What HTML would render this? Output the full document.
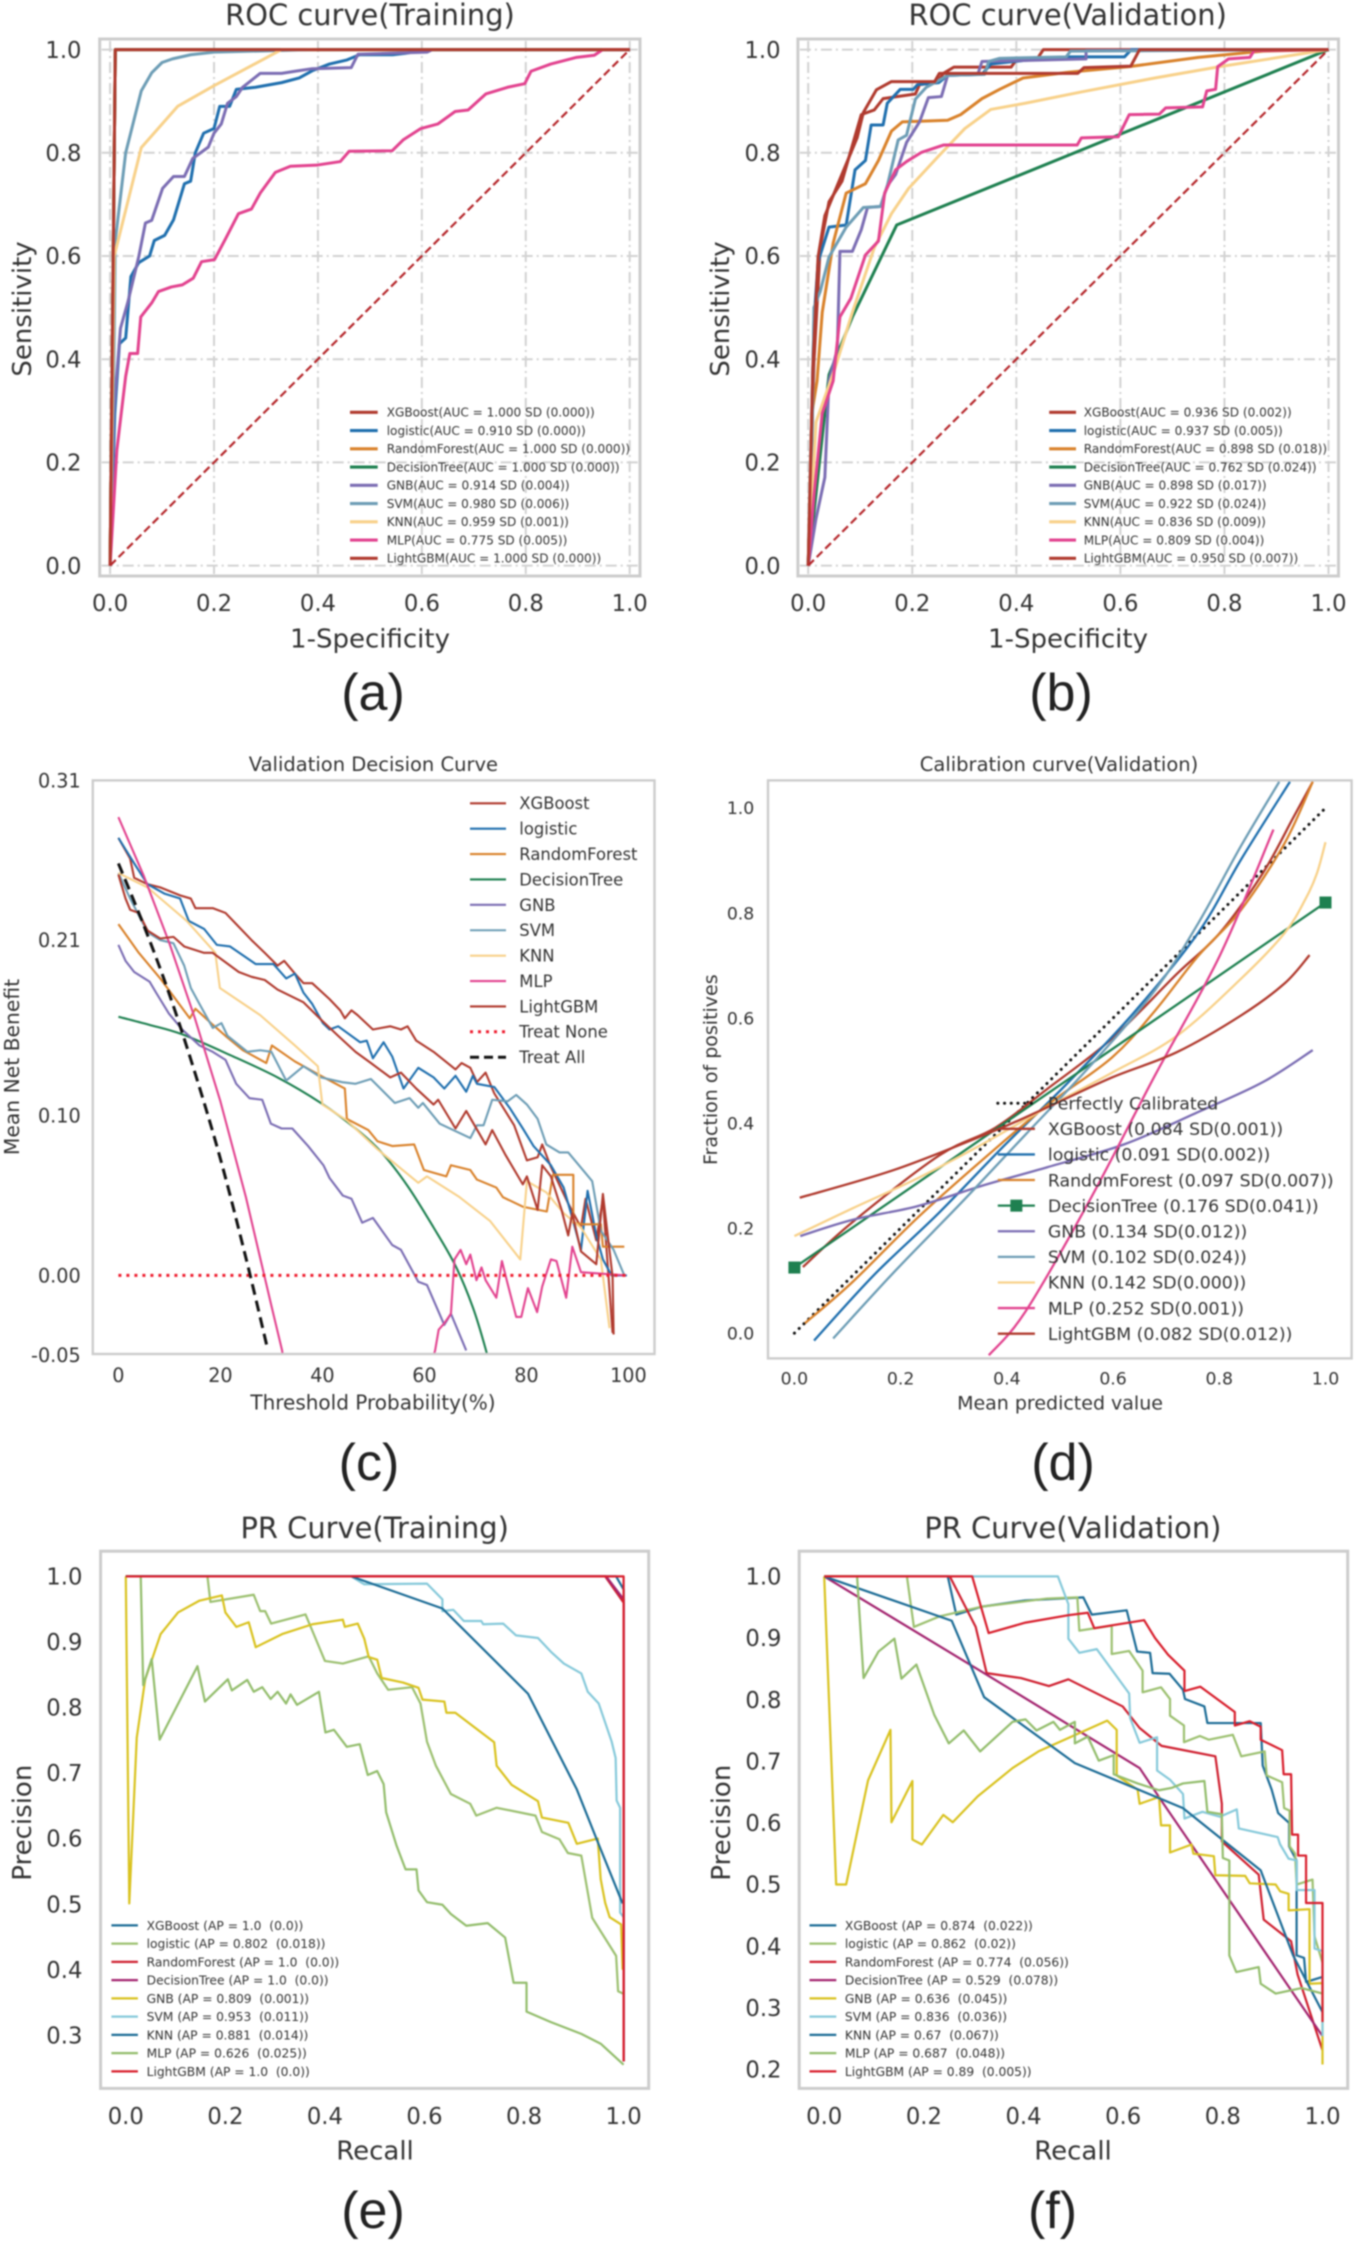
<!DOCTYPE html>
<html lang="en">
<head>
<meta charset="utf-8">
<title>Model evaluation curves</title>
<style>
html,body{margin:0;padding:0;background:#fff;width:1357px;height:2244px;overflow:hidden}
svg{display:block;filter:blur(.7px)}
text{font-family:"DejaVu Sans","Liberation Sans",sans-serif;fill:#333;white-space:pre}
.big{font-family:"Liberation Sans",sans-serif;font-size:52px;fill:#222;text-anchor:middle}
.mid{text-anchor:middle}
</style>
</head>
<body>
<svg id="figure" xmlns="http://www.w3.org/2000/svg" width="1357" height="2244" viewBox="0 0 1357 2244">
<rect width="1357" height="2244" fill="#fff"/>
<text class="mid" x="370" y="25" font-size="28.9">ROC curve(Training)</text>
<text class="mid" x="370" y="647.5" font-size="26">1-Specificity</text>
<text class="mid" transform="translate(31,309) rotate(-90)" font-size="26">Sensitivity</text>
<text class="big" x="373" y="710">(a)</text>
<text class="mid" x="1067.7" y="25" font-size="28.9">ROC curve(Validation)</text>
<text class="mid" x="1068" y="647.5" font-size="26">1-Specificity</text>
<text class="mid" transform="translate(729,309) rotate(-90)" font-size="26">Sensitivity</text>
<text class="big" x="1061" y="710">(b)</text>
<text class="mid" x="373.4" y="770.8" font-size="19.5">Validation Decision Curve</text>
<text class="mid" x="373" y="1409.4" font-size="20">Threshold Probability(%)</text>
<text class="mid" transform="translate(19,1067) rotate(-90)" font-size="20.3">Mean Net Benefit</text>
<text class="big" x="369" y="1480">(c)</text>
<text class="mid" x="1059" y="770.8" font-size="19.5">Calibration curve(Validation)</text>
<text class="mid" x="1060" y="1409.4" font-size="19">Mean predicted value</text>
<text class="mid" transform="translate(717,1069.7) rotate(-90)" font-size="19">Fraction of positives</text>
<text class="big" x="1063" y="1480">(d)</text>
<text class="mid" x="374.7" y="1538" font-size="28.9">PR Curve(Training)</text>
<text class="mid" x="375" y="2159.6" font-size="26">Recall</text>
<text class="mid" transform="translate(31,1822.7) rotate(-90)" font-size="26">Precision</text>
<text class="big" x="373" y="2228">(e)</text>
<text class="mid" x="1072.9" y="1538" font-size="28.9">PR Curve(Validation)</text>
<text class="mid" x="1073" y="2159.6" font-size="26">Recall</text>
<text class="mid" transform="translate(730,1822.7) rotate(-90)" font-size="26">Precision</text>
<text class="big" x="1052.6" y="2228">(f)</text>
</svg>
<script>
/* ---------- tick values and labels ---------- */
const rocTicks=[0,0.2,0.4,0.6,0.8,1];
const rocTickLabels=['0.0','0.2','0.4','0.6','0.8','1.0'];
const dcaXTicks=[0,20,40,60,80,100];
const dcaXTickLabels=['0','20','40','60','80','100'];
const dcaYTicks=[0.31,0.21,0.10,0,-0.05];
const dcaYTickLabels=['0.31','0.21','0.10','0.00','-0.05'];
const prTrainYTicks=[1,0.9,0.8,0.7,0.6,0.5,0.4,0.3];
const prTrainYTickLabels=['1.0','0.9','0.8','0.7','0.6','0.5','0.4','0.3'];
const prValYTicks=[1,0.9,0.8,0.7,0.6,0.5,0.4,0.3,0.2];
const prValYTickLabels=['1.0','0.9','0.8','0.7','0.6','0.5','0.4','0.3','0.2'];

/* ---------- legend text ---------- */
const rocTrainLegend=['XGBoost(AUC = 1.000 SD (0.000))','logistic(AUC = 0.910 SD (0.000))','RandomForest(AUC = 1.000 SD (0.000))','DecisionTree(AUC = 1.000 SD (0.000))','GNB(AUC = 0.914 SD (0.004))','SVM(AUC = 0.980 SD (0.006))','KNN(AUC = 0.959 SD (0.001))','MLP(AUC = 0.775 SD (0.005))','LightGBM(AUC = 1.000 SD (0.000))'];
const rocValLegend=['XGBoost(AUC = 0.936 SD (0.002))','logistic(AUC = 0.937 SD (0.005))','RandomForest(AUC = 0.898 SD (0.018))','DecisionTree(AUC = 0.762 SD (0.024))','GNB(AUC = 0.898 SD (0.017))','SVM(AUC = 0.922 SD (0.024))','KNN(AUC = 0.836 SD (0.009))','MLP(AUC = 0.809 SD (0.004))','LightGBM(AUC = 0.950 SD (0.007))'];
const dcaLegend=['XGBoost','logistic','RandomForest','DecisionTree','GNB','SVM','KNN','MLP','LightGBM','Treat None','Treat All'];
const calLegend=['Perfectly Calibrated','XGBoost (0.084 SD(0.001))','logistic (0.091 SD(0.002))','RandomForest (0.097 SD(0.007))','DecisionTree (0.176 SD(0.041))','GNB (0.134 SD(0.012))','SVM (0.102 SD(0.024))','KNN (0.142 SD(0.000))','MLP (0.252 SD(0.001))','LightGBM (0.082 SD(0.012))'];
const prTrainLegend=['XGBoost (AP = 1.0  (0.0))','logistic (AP = 0.802  (0.018))','RandomForest (AP = 1.0  (0.0))','DecisionTree (AP = 1.0  (0.0))','GNB (AP = 0.809  (0.001))','SVM (AP = 0.953  (0.011))','KNN (AP = 0.881  (0.014))','MLP (AP = 0.626  (0.025))','LightGBM (AP = 1.0  (0.0))'];
const prValLegend=['XGBoost (AP = 0.874  (0.022))','logistic (AP = 0.862  (0.02))','RandomForest (AP = 0.774  (0.056))','DecisionTree (AP = 0.529  (0.078))','GNB (AP = 0.636  (0.045))','SVM (AP = 0.836  (0.036))','KNN (AP = 0.67  (0.067))','MLP (AP = 0.687  (0.048))','LightGBM (AP = 0.89  (0.005))'];

/* ---------- ROC training: [1-specificity, sensitivity] ---------- */
const rocTrainXGBoost=[[0,0],[0.01,1],[1,1]];
const rocTrainLogistic=[[0,0],[0.009,0.295],[0.018,0.43],[0.03,0.441],[0.04,0.56],[0.055,0.587],[0.076,0.6],[0.085,0.63],[0.105,0.64],[0.122,0.67],[0.143,0.74],[0.155,0.745],[0.164,0.8],[0.18,0.838],[0.2,0.847],[0.211,0.89],[0.23,0.89],[0.243,0.923],[0.28,0.927],[0.33,0.936],[0.364,0.945],[0.389,0.959],[0.422,0.972],[0.456,0.98],[0.48,0.99],[0.544,0.99],[0.569,0.993],[0.61,1],[1,1]];
const rocTrainRandomForest=[[0,0],[0.01,1],[1,1]];
const rocTrainDecisionTree=[[0,0],[0.01,1],[1,1]];
const rocTrainGNB=[[0,0],[0.007,0.295],[0.02,0.46],[0.034,0.51],[0.055,0.598],[0.068,0.664],[0.08,0.669],[0.101,0.731],[0.122,0.754],[0.143,0.754],[0.159,0.789],[0.189,0.811],[0.2,0.838],[0.214,0.856],[0.226,0.896],[0.243,0.909],[0.255,0.927],[0.289,0.954],[0.33,0.954],[0.356,0.958],[0.389,0.963],[0.464,0.965],[0.477,0.991],[0.61,0.995],[0.62,1]];
const rocTrainSVM=[[0,0],[0.008,0.45],[0.01,0.63],[0.03,0.8],[0.06,0.92],[0.08,0.955],[0.1,0.975],[0.12,0.982],[0.155,0.99],[0.2,0.995],[0.39,1]];
const rocTrainKNN=[[0,0],[0.008,0.6],[0.06,0.81],[0.13,0.89],[0.2,0.93],[0.33,1],[0.4,1]];
const rocTrainMLP=[[0,0],[0.013,0.224],[0.03,0.367],[0.038,0.411],[0.053,0.411],[0.059,0.482],[0.08,0.509],[0.093,0.531],[0.118,0.54],[0.139,0.544],[0.16,0.557],[0.176,0.589],[0.201,0.593],[0.222,0.633],[0.247,0.682],[0.272,0.691],[0.289,0.722],[0.318,0.762],[0.347,0.774],[0.397,0.776],[0.443,0.783],[0.46,0.803],[0.543,0.804],[0.564,0.825],[0.598,0.847],[0.631,0.856],[0.664,0.88],[0.689,0.883],[0.723,0.914],[0.765,0.927],[0.798,0.934],[0.81,0.958],[0.848,0.972],[0.898,0.985],[0.932,0.989],[0.948,1],[1,1]];
const rocTrainLightGBM=[[0,0],[0.01,1],[1,1]];

/* ---------- ROC validation ---------- */
const rocValXGBoost=[[0,0],[0.011,0.393],[0.023,0.616],[0.04,0.705],[0.065,0.745],[0.102,0.874],[0.127,0.883],[0.144,0.905],[0.206,0.914],[0.214,0.932],[0.247,0.936],[0.26,0.954],[0.28,0.966],[0.39,0.966],[0.4,0.98],[0.44,0.982],[0.452,1],[1,1]];
const rocValLogistic=[[0,0],[0.011,0.473],[0.019,0.589],[0.04,0.656],[0.073,0.66],[0.09,0.767],[0.11,0.785],[0.121,0.854],[0.144,0.854],[0.152,0.896],[0.177,0.923],[0.202,0.923],[0.21,0.932],[0.251,0.936],[0.268,0.95],[0.334,0.952],[0.351,0.972],[0.451,0.983],[0.5,0.986],[0.608,0.986],[0.621,1],[1,1]];
const rocValRandomForest=[[0,0],[0.007,0.295],[0.017,0.358],[0.027,0.491],[0.048,0.625],[0.073,0.722],[0.11,0.74],[0.135,0.785],[0.16,0.842],[0.181,0.86],[0.268,0.863],[0.293,0.874],[0.334,0.905],[0.368,0.923],[0.413,0.945],[0.5,0.956],[0.617,0.967],[0.75,0.985],[0.874,0.997],[1,1]];
const rocValDecisionTree=[[0,0],[0.04,0.37],[0.085,0.482],[0.17,0.66],[1,1]];
const rocValGNB=[[0,0],[0.015,0.091],[0.032,0.171],[0.04,0.358],[0.056,0.42],[0.061,0.609],[0.085,0.609],[0.102,0.651],[0.114,0.694],[0.139,0.696],[0.152,0.736],[0.168,0.758],[0.189,0.82],[0.214,0.86],[0.231,0.907],[0.256,0.909],[0.268,0.95],[0.326,0.952],[0.334,0.977],[0.534,0.982],[0.534,0.998],[1,1]];
const rocValSVM=[[0,0],[0.007,0.206],[0.011,0.5],[0.023,0.531],[0.04,0.598],[0.073,0.656],[0.106,0.694],[0.139,0.696],[0.152,0.736],[0.173,0.825],[0.189,0.834],[0.206,0.904],[0.227,0.927],[0.268,0.95],[0.339,0.952],[0.347,0.977],[0.368,0.983],[0.496,0.986],[0.504,0.997],[1,1]];
const rocValKNN=[[0,0],[0.015,0.278],[0.052,0.384],[0.085,0.491],[0.127,0.616],[0.16,0.682],[0.193,0.731],[0.251,0.794],[0.301,0.847],[0.351,0.884],[0.417,0.896],[0.525,0.918],[0.666,0.945],[0.791,0.967],[1,1]];
const rocValMLP=[[0,0],[0.011,0.135],[0.027,0.295],[0.048,0.358],[0.061,0.482],[0.082,0.518],[0.11,0.602],[0.135,0.629],[0.147,0.722],[0.168,0.767],[0.189,0.783],[0.218,0.801],[0.26,0.815],[0.517,0.815],[0.525,0.829],[0.596,0.831],[0.617,0.874],[0.675,0.875],[0.687,0.887],[0.758,0.889],[0.766,0.92],[0.783,0.923],[0.787,0.967],[0.808,0.982],[0.849,0.985],[0.857,0.998],[1,1]];
const rocValLightGBM=[[0,0],[0.009,0.384],[0.019,0.598],[0.032,0.678],[0.061,0.749],[0.094,0.829],[0.106,0.878],[0.131,0.922],[0.16,0.938],[0.243,0.938],[0.252,0.954],[0.518,0.954],[0.53,0.965],[0.62,0.968],[0.637,1],[1,1]];
const chanceLine=[[0,0],[1,1]];

/* ---------- decision curve: [threshold %, net benefit] ---------- */
const dcaXGBoost=[[0,0.274],[2.3,0.261],[3.1,0.249],[5.7,0.245],[8.2,0.243],[12.1,0.238],[14.2,0.236],[15.1,0.23],[18.5,0.23],[21,0.227],[23.1,0.22],[26.1,0.21],[28.7,0.202],[31.2,0.194],[32.5,0.197],[34.6,0.189],[36.3,0.183],[38,0.183],[41.4,0.173],[43.5,0.166],[44.4,0.161],[45.7,0.166],[46.9,0.163],[49.9,0.154],[51.6,0.155],[53.3,0.156],[55.4,0.154],[56.7,0.156],[58.4,0.147],[61.8,0.14],[66.1,0.129],[67.3,0.133],[69,0.13],[70.3,0.121],[72,0.127],[73.7,0.114],[77.6,0.094],[80.1,0.072],[82.2,0.074],[83.1,0.082],[84.8,0.068],[88.2,0.045],[90.7,0.03],[91.6,0.048],[93.7,0.022],[95,0.048],[96.9,-0.036]];
const dcaLogistic=[[0,0.274],[3.1,0.258],[5.7,0.245],[9.1,0.239],[12.1,0.236],[13.8,0.222],[16.8,0.217],[19.3,0.207],[21.9,0.206],[26.9,0.195],[30.4,0.195],[32.9,0.186],[34.6,0.189],[36.3,0.177],[38,0.17],[40.1,0.158],[41.4,0.154],[43.1,0.156],[47.4,0.146],[48.7,0.147],[49.9,0.136],[52,0.146],[53.7,0.137],[55.9,0.117],[58.8,0.13],[61.8,0.124],[63.9,0.117],[66.1,0.125],[68.2,0.115],[69.5,0.125],[70.3,0.12],[73.7,0.118],[76.7,0.105],[79.3,0.092],[81.4,0.081],[84.8,0.069],[87.3,0.055],[89,0.036],[90.7,0.016],[92,0.053],[93.7,0.025],[95,0.01],[96.7,0],[99.7,0]];
const dcaRandomForest=[[0,0.22],[4,0.202],[8.2,0.186],[14,0.161],[15.1,0.167],[18.5,0.157],[21,0.15],[24.4,0.141],[29,0.133],[30.1,0.144],[34.6,0.134],[39.7,0.125],[44.4,0.117],[44.8,0.098],[49,0.091],[50.8,0.084],[53.7,0.081],[58,0.082],[59.9,0.066],[64.3,0.062],[65.2,0.069],[69,0.066],[70.3,0.06],[74.1,0.055],[75.4,0.049],[79.3,0.043],[84,0.04],[85.2,0.063],[89.2,0.063],[89.2,0.033],[91.2,0.032],[94.6,0.032],[95,0.018],[99.2,0.018]];
const dcaDecisionTree=[[0,0.162],[6,0.157],[12.5,0.151],[21.9,0.138],[31.2,0.124],[39.7,0.108],[46.5,0.092],[51.6,0.077],[56.7,0.056],[61.8,0.03],[66.1,0.006],[69.5,-0.02],[72,-0.046],[73,-0.06]];
const dcaGNB=[[0,0.207],[1.4,0.197],[3.1,0.19],[6.1,0.184],[7.4,0.177],[9.9,0.164],[12.5,0.154],[15.9,0.144],[18.5,0.14],[21,0.135],[23.1,0.12],[25.7,0.111],[28.2,0.11],[29.9,0.095],[32,0.092],[34.1,0.092],[37.2,0.081],[40.2,0.069],[41.4,0.061],[44,0.05],[45.7,0.048],[47.8,0.033],[49.9,0.036],[53.7,0.019],[55.4,0.016],[58.8,-0.004],[60.5,-0.006],[63.9,-0.031],[65.2,-0.024],[68.2,-0.047]];
const dcaSVM=[[0,0.252],[2.3,0.236],[4.9,0.22],[6.2,0.214],[8.2,0.21],[10.8,0.208],[12.9,0.194],[14.2,0.18],[15.9,0.17],[18.5,0.155],[20.2,0.158],[21.4,0.15],[25.3,0.14],[27.8,0.141],[30,0.14],[32.9,0.122],[36.3,0.131],[39.7,0.124],[43.9,0.121],[46.5,0.12],[49.5,0.123],[54.2,0.108],[57.1,0.111],[58.8,0.105],[59.7,0.108],[63,0.095],[69,0.086],[70.3,0.094],[71.6,0.094],[73.3,0.11],[76.3,0.109],[78,0.113],[80.1,0.107],[82.2,0.098],[83.9,0.082],[86.5,0.077],[88.2,0.077],[91.6,0.064],[92.9,0.059],[94.6,0.028],[97.1,0.016],[99.2,0]];
const dcaKNN=[[0,0.252],[5.7,0.243],[13.4,0.222],[19,0.202],[19.9,0.18],[27.8,0.163],[34.6,0.144],[39.1,0.131],[40,0.107],[44.8,0.097],[50.8,0.079],[58.8,0.058],[60.5,0.062],[66.9,0.049],[72.9,0.034],[78.8,0.01],[80.1,0.059],[83.9,0.052],[87.3,0.039],[90.7,0.03],[94.6,0.01],[96.3,-0.033]];
const dcaMLP=[[0,0.287],[5,0.25],[10,0.208],[15,0.161],[20,0.109],[25,0.049],[30,-0.019],[32.1,-0.047],[33,-0.07],[60,-0.07],[62.1,-0.047],[62.8,-0.034],[63.9,-0.03],[65.2,-0.024],[65.9,0.01],[67.1,0.016],[68.2,0.007],[69,0.013],[70.2,-0.003],[71.2,0.005],[72,-0.003],[74.1,-0.014],[75.2,0.009],[76.3,-0.005],[78,-0.026],[79,-0.026],[80.3,-0.008],[82.1,-0.023],[83.1,-0.007],[84.8,0.01],[85.9,0.009],[87.8,-0.014],[89,0.018],[90.7,0.002],[99.5,0]];
const dcaLightGBM=[[0,0.251],[1.4,0.236],[2.3,0.229],[4,0.227],[5.7,0.216],[8.2,0.211],[10.8,0.212],[12.9,0.206],[16.8,0.202],[18.5,0.202],[21.9,0.194],[23.6,0.19],[26.1,0.187],[28.7,0.185],[31.2,0.179],[36.3,0.171],[40.1,0.159],[43.1,0.15],[46.5,0.14],[49.5,0.133],[53.3,0.124],[55.4,0.127],[58.4,0.117],[61.8,0.107],[62.7,0.11],[66.1,0.092],[68.2,0.103],[72,0.082],[73.3,0.091],[75.8,0.076],[79.3,0.057],[80.1,0.062],[82.2,0.041],[83.1,0.069],[84.8,0.062],[86.9,0.041],[88.2,0.025],[89,0.039],[90.7,0.015],[93.7,0.007],[95,0.051],[96.9,-0.001],[97.1,-0.037]];
const dcaTreatNone=[[0,0],[99.5,0]];
const dcaTreatAll=[[0,0.258],[5,0.219],[10,0.176],[15,0.127],[20,0.073],[25,0.011],[29.1,-0.044]];

/* ---------- calibration: [mean predicted, fraction positive] ---------- */
const calPerfect=[[0,0],[1,1]];
const calXGBoost=[[0.016,0.126],[0.11,0.212],[0.272,0.338],[0.378,0.391],[0.476,0.465],[0.598,0.561],[0.72,0.684],[0.801,0.762],[0.882,0.876],[0.939,0.981],[0.976,1.05]];
const calLogistic=[[0.037,-0.014],[0.15,0.111],[0.272,0.229],[0.394,0.356],[0.516,0.478],[0.638,0.609],[0.76,0.762],[0.841,0.902],[0.933,1.05]];
const calRandomForest=[[0.02,0.019],[0.11,0.098],[0.232,0.22],[0.354,0.33],[0.476,0.434],[0.598,0.525],[0.679,0.614],[0.76,0.718],[0.841,0.806],[0.923,0.933],[0.976,1.05]];
const calDecisionTree=[[0,0.125],[1,0.82]];
const calGNB=[[0.011,0.185],[0.11,0.216],[0.232,0.242],[0.354,0.281],[0.476,0.316],[0.622,0.36],[0.76,0.421],[0.882,0.478],[0.976,0.539]];
const calSVM=[[0.073,-0.01],[0.191,0.12],[0.313,0.247],[0.435,0.378],[0.557,0.509],[0.679,0.653],[0.76,0.78],[0.841,0.928],[0.913,1.05]];
const calKNN=[[0,0.185],[0.11,0.238],[0.232,0.295],[0.354,0.36],[0.476,0.43],[0.598,0.496],[0.72,0.566],[0.841,0.675],[0.923,0.762],[0.963,0.828],[0.984,0.876],[1,0.935]];
const calMLP=[[0.366,-0.042],[0.435,0.041],[0.557,0.255],[0.679,0.491],[0.801,0.719],[0.902,0.959]];
const calLightGBM=[[0.01,0.258],[0.191,0.312],[0.378,0.386],[0.476,0.43],[0.598,0.487],[0.72,0.535],[0.841,0.605],[0.923,0.666],[0.97,0.72]];

/* ---------- PR training: [recall, precision] ---------- */
const prTrainXGBoost=[[0,1],[0.985,1],[1,0.98],[1,0.26]];
const prTrainLogistic=[[0,1],[0.164,1],[0.17,0.961],[0.257,0.972],[0.27,0.947],[0.28,0.947],[0.292,0.928],[0.361,0.942],[0.383,0.902],[0.4,0.871],[0.436,0.867],[0.488,0.878],[0.505,0.852],[0.527,0.827],[0.575,0.831],[0.592,0.806],[0.605,0.748],[0.623,0.711],[0.653,0.668],[0.692,0.653],[0.704,0.635],[0.745,0.647],[0.823,0.635],[0.836,0.61],[0.871,0.599],[0.888,0.578],[0.915,0.574],[0.937,0.479],[0.985,0.421],[0.989,0.367],[1,0.363]];
const prTrainRandomForest=[[0,1],[0.963,1],[1,0.96],[1,0.26]];
const prTrainDecisionTree=[[0,1],[0.965,1],[1,0.965],[1,0.26]];
const prTrainGNB=[[0,1],[0.007,0.501],[0.022,0.754],[0.039,0.843],[0.07,0.912],[0.105,0.945],[0.148,0.963],[0.193,0.971],[0.2,0.945],[0.222,0.923],[0.247,0.93],[0.261,0.892],[0.314,0.912],[0.375,0.927],[0.436,0.934],[0.44,0.923],[0.466,0.928],[0.479,0.905],[0.488,0.877],[0.505,0.873],[0.514,0.845],[0.557,0.838],[0.588,0.83],[0.596,0.812],[0.64,0.809],[0.644,0.792],[0.662,0.792],[0.74,0.747],[0.745,0.711],[0.775,0.682],[0.828,0.657],[0.836,0.632],[0.889,0.624],[0.906,0.592],[0.948,0.6],[0.954,0.538],[0.963,0.502],[0.972,0.48],[0.995,0.469],[0.998,0.4]];
const prTrainSVM=[[0,1],[0.453,1],[0.479,0.988],[0.605,0.989],[0.636,0.965],[0.636,0.947],[0.658,0.949],[0.679,0.932],[0.714,0.932],[0.718,0.927],[0.758,0.928],[0.784,0.91],[0.828,0.906],[0.854,0.885],[0.88,0.867],[0.915,0.852],[0.928,0.824],[0.95,0.806],[0.963,0.777],[0.976,0.748],[0.984,0.723],[0.986,0.658],[0.993,0.647],[0.993,0.487],[1,0.48]];
const prTrainKNN=[[0,1],[0.453,1],[0.636,0.951],[0.808,0.821],[0.906,0.675],[0.948,0.595],[0.998,0.501]];
const prTrainMLP=[[0,1],[0.03,1],[0.035,0.834],[0.052,0.874],[0.068,0.751],[0.144,0.863],[0.159,0.809],[0.205,0.843],[0.213,0.826],[0.244,0.842],[0.257,0.824],[0.274,0.831],[0.291,0.813],[0.305,0.824],[0.322,0.806],[0.331,0.82],[0.344,0.804],[0.388,0.824],[0.401,0.762],[0.418,0.766],[0.444,0.74],[0.47,0.744],[0.486,0.697],[0.505,0.703],[0.518,0.683],[0.523,0.64],[0.544,0.589],[0.562,0.553],[0.584,0.553],[0.588,0.521],[0.605,0.503],[0.636,0.499],[0.653,0.485],[0.684,0.467],[0.727,0.471],[0.762,0.449],[0.779,0.38],[0.805,0.38],[0.805,0.336],[0.854,0.32],[0.915,0.302],[0.954,0.287],[1,0.255]];
const prTrainLightGBM=[[0,1],[1,1],[1,0.26]];

/* ---------- PR validation ---------- */
const prValXGBoost=[[0,1],[0.248,1],[0.265,0.938],[0.317,0.951],[0.403,0.961],[0.52,0.966],[0.537,0.938],[0.607,0.945],[0.628,0.878],[0.654,0.876],[0.659,0.843],[0.693,0.842],[0.72,0.816],[0.724,0.801],[0.763,0.789],[0.769,0.762],[0.876,0.762],[0.88,0.693],[0.898,0.654],[0.911,0.616],[0.933,0.6],[0.933,0.562],[0.948,0.539],[0.948,0.385],[0.963,0.381],[0.967,0.342],[1,0.35]];
const prValLogistic=[[0,1],[0.166,1],[0.18,0.918],[0.231,0.935],[0.317,0.951],[0.447,0.964],[0.508,0.966],[0.512,0.912],[0.577,0.92],[0.577,0.874],[0.612,0.879],[0.639,0.847],[0.639,0.812],[0.676,0.82],[0.694,0.801],[0.694,0.774],[0.722,0.758],[0.722,0.731],[0.754,0.741],[0.772,0.735],[0.82,0.743],[0.837,0.708],[0.884,0.716],[0.888,0.677],[0.919,0.666],[0.923,0.624],[0.934,0.62],[0.934,0.562],[0.945,0.55],[0.948,0.5],[0.98,0.508],[0.984,0.416],[1,0.373]];
const prValRandomForest=[[0,1],[0.252,1],[0.304,0.918],[0.326,0.843],[0.395,0.835],[0.451,0.822],[0.49,0.833],[0.599,0.789],[0.633,0.754],[0.677,0.725],[0.785,0.708],[0.798,0.631],[0.798,0.57],[0.872,0.516],[0.882,0.443],[0.937,0.408],[0.95,0.354],[1,0.231]];
const prValDecisionTree=[[0,1],[0.321,0.843],[0.633,0.689],[0.681,0.631],[1,0.254]];
const prValGNB=[[0,1],[0.024,0.5],[0.044,0.5],[0.088,0.669],[0.133,0.751],[0.135,0.601],[0.177,0.668],[0.177,0.573],[0.196,0.565],[0.239,0.613],[0.258,0.601],[0.308,0.643],[0.378,0.689],[0.43,0.716],[0.568,0.766],[0.587,0.751],[0.587,0.677],[0.629,0.654],[0.633,0.631],[0.672,0.642],[0.676,0.596],[0.694,0.596],[0.694,0.552],[0.737,0.565],[0.741,0.55],[0.782,0.546],[0.785,0.515],[0.845,0.514],[0.854,0.502],[0.906,0.5],[0.915,0.489],[0.932,0.485],[0.932,0.458],[0.974,0.46],[0.974,0.339],[1,0.34],[1,0.208]];
const prValSVM=[[0,1],[0.469,1],[0.49,0.955],[0.49,0.899],[0.512,0.876],[0.547,0.882],[0.612,0.81],[0.614,0.77],[0.633,0.73],[0.668,0.739],[0.668,0.685],[0.694,0.67],[0.72,0.647],[0.723,0.607],[0.759,0.618],[0.794,0.61],[0.828,0.622],[0.832,0.591],[0.91,0.577],[0.915,0.565],[0.932,0.542],[0.948,0.539],[0.948,0.491],[0.965,0.491],[0.984,0.491],[0.984,0.396],[1,0.392],[1,0.254]];
const prValKNN=[[0,1],[0.256,0.928],[0.321,0.804],[0.503,0.697],[0.72,0.624],[0.876,0.523],[0.941,0.385],[1,0.293]];
const prValMLP=[[0,1],[0.066,1],[0.079,0.835],[0.109,0.878],[0.141,0.899],[0.155,0.834],[0.185,0.857],[0.221,0.775],[0.25,0.729],[0.28,0.75],[0.313,0.716],[0.378,0.764],[0.404,0.768],[0.426,0.75],[0.46,0.764],[0.473,0.751],[0.503,0.764],[0.503,0.729],[0.529,0.74],[0.551,0.701],[0.581,0.71],[0.581,0.679],[0.629,0.664],[0.672,0.653],[0.698,0.657],[0.72,0.664],[0.763,0.668],[0.769,0.618],[0.798,0.614],[0.8,0.543],[0.813,0.539],[0.813,0.385],[0.827,0.358],[0.872,0.366],[0.876,0.339],[0.906,0.323],[0.958,0.332],[1,0.323]];
const prValLightGBM=[[0,1],[0.297,1],[0.33,0.908],[0.404,0.925],[0.49,0.937],[0.529,0.941],[0.542,0.916],[0.642,0.929],[0.664,0.9],[0.69,0.873],[0.723,0.847],[0.723,0.814],[0.755,0.821],[0.824,0.78],[0.824,0.758],[0.854,0.765],[0.876,0.756],[0.876,0.735],[0.919,0.718],[0.922,0.679],[0.937,0.679],[0.939,0.581],[0.951,0.581],[0.951,0.547],[0.967,0.547],[0.967,0.47],[1,0.47],[1,0.277]];

/* ---------- drawing ---------- */
const NS='http://www.w3.org/2000/svg';
const root=document.getElementById('figure');
const C={xgb:'#b03a2e',log:'#1f6fae',rf:'#d9822b',dt:'#1e8050',gnb:'#7b6db3',svm:'#6d9db5',knn:'#f8d18a',mlp:'#e2438f',lgb:'#b03a2e'};
const P={xgb:'#1c6c96',log:'#9cc070',rf:'#cf2030',dt:'#a3246f',gnb:'#d9c21f',svm:'#86c9da',knn:'#1c6c96',mlp:'#93bd6c',lgb:'#d81e2c'};

function node(tag,attrs,parent){
  const el=document.createElementNS(NS,tag);
  for(const k in attrs){el.setAttribute(k,attrs[k]);}
  parent.appendChild(el);
  return el;
}
function pathFor(pts,sx,sy,smooth){
  const q=pts.map(p=>[sx(p[0]),sy(p[1])]);
  let d='M'+q[0][0].toFixed(2)+' '+q[0][1].toFixed(2);
  for(let i=1;i<q.length;i++){
    if(!smooth){d+='L'+q[i][0].toFixed(2)+' '+q[i][1].toFixed(2);continue;}
    const a=q[Math.max(i-2,0)],b=q[i-1],c=q[i],e=q[Math.min(i+1,q.length-1)];
    const c1=[b[0]+(c[0]-a[0])/6,b[1]+(c[1]-a[1])/6];
    const c2=[c[0]-(e[0]-b[0])/6,c[1]-(e[1]-b[1])/6];
    d+='C'+c1[0].toFixed(2)+' '+c1[1].toFixed(2)+' '+c2[0].toFixed(2)+' '+c2[1].toFixed(2)+' '+c[0].toFixed(2)+' '+c[1].toFixed(2);
  }
  return d;
}
function drawPanel(o){
  const g=node('g',{},root);
  
  
  const sx=v=>o.x0+(v-o.xmin)/(o.xmax-o.xmin)*(o.x1-o.x0);
  const sy=v=>o.y0+(v-o.ymin)/(o.ymax-o.ymin)*(o.y1-o.y0);
  const clipId=o.id+'-clip';
  const cp=node('clipPath',{id:clipId},g);
  node('rect',{x:o.fx0,y:o.fy0,width:o.fx1-o.fx0,height:o.fy1-o.fy0},cp);
  if(o.grid){
    o.xTicks.forEach(t=>{
      const l=node('line',{x1:sx(t),x2:sx(t),y1:o.fy0+2,y2:o.fy1-2,stroke:'#d2d2d2','stroke-width':2,'stroke-dasharray':'11 4 2 4'},g);
      
      
    });
    o.yTicks.forEach(t=>{
      const l=node('line',{y1:sy(t),y2:sy(t),x1:o.fx0+2,x2:o.fx1-2,stroke:'#d2d2d2','stroke-width':2,'stroke-dasharray':'11 4 2 4'},g);
      
      
    });
  }
  const plot=node('g',{'clip-path':'url(#'+clipId+')'},g);
  o.series.forEach(s=>{
    const attrs={d:pathFor(s.data,sx,sy,s.smooth),fill:'none',stroke:s.color,'stroke-width':s.width||o.lw,'stroke-linejoin':'round'};
    if(s.dash){attrs['stroke-dasharray']=s.dash;}
    if(s.cap){attrs['stroke-linecap']=s.cap;}
    const p=node('path',attrs,plot);
    
    
    if(s.marker){
      s.data.forEach(pt=>{
        const m=node('rect',{x:sx(pt[0])-6,y:sy(pt[1])-6,width:12,height:12,fill:s.color},g);
        
        
      });
    }
  });
  const fr=node('rect',{x:o.fx0,y:o.fy0,width:o.fx1-o.fx0,height:o.fy1-o.fy0,fill:'none',stroke:'#cccccc','stroke-width':o.frameWidth},g);
  
  
  o.xTicks.forEach((t,i)=>{
    const e=node('text',{x:sx(t),y:o.xTickY+o.tickFont*0.36,'font-size':o.tickFont,'text-anchor':'middle'},g);
    e.textContent=o.xTickLabels[i];
    
    
  });
  o.yTicks.forEach((t,i)=>{
    const e=node('text',{x:o.yTickX,y:sy(t)+o.tickFont*0.36,'font-size':o.tickFont,'text-anchor':'end'},g);
    e.textContent=o.yTickLabels[i];
    
    
  });
  const lg=node('g',{},g);
  
  
  o.legend.labels.forEach((txt,i)=>{
    const y=o.legend.y+i*o.legend.step;
    const st=o.legend.styles[i];
    const attrs={x1:o.legend.x0,x2:o.legend.x1,y1:y,y2:y,stroke:st.color,'stroke-width':st.width||o.legend.lw};
    if(st.dash){attrs['stroke-dasharray']=st.dash;}
    if(st.cap){attrs['stroke-linecap']=st.cap;}
    const k=node('line',attrs,lg);
    
    
    if(st.marker){
      const m=node('rect',{x:(o.legend.x0+o.legend.x1)/2-6,y:y-6,width:12,height:12,fill:st.color},lg);
      
      
    }
    const e=node('text',{x:o.legend.tx,y:y+o.legend.font*0.36,'font-size':o.legend.font,fill:o.legend.fill||'#333'},lg);
    e.textContent=txt;
    
    
  });
}

const names=['xgboost','logistic','random-forest','decision-tree','gnb','svm','knn','mlp','lightgbm'];
const keys=['xgb','log','rf','dt','gnb','svm','knn','mlp','lgb'];
function modelSeries(arrs,pal){return arrs.map((a,i)=>({name:names[i],data:a,color:pal[keys[i]]}));}
const rocKeyStyles=keys.map(k=>({color:C[k]}));

function rocSeries(arrs){
  const s=modelSeries(arrs,C);
  s.push({name:'chance-diagonal',data:chanceLine,color:'#b5272b',width:2.2,dash:'8 4'});
  return s;
}
drawPanel({id:'roc-training',x0:110.1,x1:629.7,y0:565.6,y1:49.6,xmin:0,xmax:1,ymin:0,ymax:1,fx0:99.7,fx1:640,fy0:39,fy1:576,grid:true,lw:3,frameWidth:3,
  xTicks:rocTicks,xTickLabels:rocTickLabels,yTicks:rocTicks,yTickLabels:rocTickLabels,tickFont:22.7,xTickY:602.8,yTickX:81.5,
  series:rocSeries([rocTrainXGBoost,rocTrainLogistic,rocTrainRandomForest,rocTrainDecisionTree,rocTrainGNB,rocTrainSVM,rocTrainKNN,rocTrainMLP,rocTrainLightGBM]),
  legend:{labels:rocTrainLegend,styles:rocKeyStyles,x0:350,x1:377.7,tx:386.7,y:412.3,step:18.25,font:12.1,lw:3.2,fill:'#444'}});
drawPanel({id:'roc-validation',x0:808.2,x1:1328.5,y0:565.6,y1:49.6,xmin:0,xmax:1,ymin:0,ymax:1,fx0:797.9,fx1:1338.5,fy0:39,fy1:576,grid:true,lw:3,frameWidth:3,
  xTicks:rocTicks,xTickLabels:rocTickLabels,yTicks:rocTicks,yTickLabels:rocTickLabels,tickFont:22.7,xTickY:602.8,yTickX:780.6,
  series:rocSeries([rocValXGBoost,rocValLogistic,rocValRandomForest,rocValDecisionTree,rocValGNB,rocValSVM,rocValKNN,rocValMLP,rocValLightGBM]),
  legend:{labels:rocValLegend,styles:rocKeyStyles,x0:1049.2,x1:1076,tx:1083.7,y:412.3,step:18.25,font:12.1,lw:3.2,fill:'#444'}});

const dcaSeries=modelSeries([dcaXGBoost,dcaLogistic,dcaRandomForest,dcaDecisionTree,dcaGNB,dcaSVM,dcaKNN,dcaMLP,dcaLightGBM],C);
dcaSeries[3].smooth=true;
dcaSeries.push({name:'treat-none',data:dcaTreatNone,color:'#ee1c2e',width:3,dash:'3 5'});
dcaSeries.push({name:'treat-all',data:dcaTreatAll,color:'#111',width:3,dash:'11 6',smooth:true});
drawPanel({id:'decision-curve',x0:118.4,x1:628.4,y0:1275.4,y1:780.4,xmin:0,xmax:100,ymin:0,ymax:0.31,fx0:92.8,fx1:654.5,fy0:780.4,fy1:1354,grid:false,lw:2.1,frameWidth:2.4,
  xTicks:dcaXTicks,xTickLabels:dcaXTickLabels,yTicks:dcaYTicks,yTickLabels:dcaYTickLabels,tickFont:19.2,xTickY:1375,yTickX:80.7,
  series:dcaSeries,
  legend:{labels:dcaLegend,styles:keys.map(k=>({color:C[k]})).concat([{color:'#ee1c2e',dash:'3 5',width:3},{color:'#111',dash:'9 5',width:3}]),x0:470,x1:506,tx:519.3,y:803.3,step:25.39,font:16.4,lw:2.1}});

const calSeries=[{name:'perfectly-calibrated',data:calPerfect,color:'#111',width:3,dash:'0.1 6.6',cap:'round'}].concat(modelSeries([calXGBoost,calLogistic,calRandomForest,calDecisionTree,calGNB,calSVM,calKNN,calMLP,calLightGBM],C).map(s=>{s.smooth=true;return s;}));
calSeries[4].marker=true;
drawPanel({id:'calibration',x0:794.4,x1:1325.5,y0:1333.2,y1:808,xmin:0,xmax:1,ymin:0,ymax:1,fx0:768,fx1:1351.6,fy0:780.4,fy1:1358.4,grid:false,lw:2.3,frameWidth:2.4,
  xTicks:rocTicks,xTickLabels:rocTickLabels,yTicks:rocTicks,yTickLabels:rocTickLabels,tickFont:17.3,xTickY:1378.2,yTickX:754.3,
  series:calSeries,
  legend:{labels:calLegend,styles:[{color:'#111',dash:'0.1 6.6',cap:'round',width:3}].concat(keys.map(k=>({color:C[k],marker:k==='dt'}))),x0:997.8,x1:1034.9,tx:1047.9,y:1103.2,step:25.61,font:17.3,lw:2.3}});

const prStyles=keys.map(k=>({color:P[k]}));
drawPanel({id:'pr-training',x0:125.8,x1:623.6,y0:2035.2,y1:1576.4,xmin:0,xmax:1,ymin:0.3,ymax:1,fx0:100.6,fx1:648.7,fy0:1551.2,fy1:2088.4,grid:false,lw:2.2,frameWidth:3,
  xTicks:rocTicks,xTickLabels:rocTickLabels,yTicks:prTrainYTicks,yTickLabels:prTrainYTickLabels,tickFont:22.7,xTickY:2115.9,yTickX:82.4,
  series:modelSeries([prTrainXGBoost,prTrainLogistic,prTrainRandomForest,prTrainDecisionTree,prTrainGNB,prTrainSVM,prTrainKNN,prTrainMLP,prTrainLightGBM],P),
  legend:{labels:prTrainLegend,styles:prStyles,x0:111.4,x1:137.9,tx:146.6,y:1925.4,step:18.25,font:12.3,lw:2.2,fill:'#444'}});
drawPanel({id:'pr-validation',x0:824.2,x1:1322.5,y0:2069.4,y1:1576.4,xmin:0,xmax:1,ymin:0.2,ymax:1,fx0:799.2,fx1:1347.7,fy0:1551.2,fy1:2088.4,grid:false,lw:2.2,frameWidth:3,
  xTicks:rocTicks,xTickLabels:rocTickLabels,yTicks:prValYTicks,yTickLabels:prValYTickLabels,tickFont:22.7,xTickY:2115.9,yTickX:781.5,
  series:modelSeries([prValXGBoost,prValLogistic,prValRandomForest,prValDecisionTree,prValGNB,prValSVM,prValKNN,prValMLP,prValLightGBM],P),
  legend:{labels:prValLegend,styles:prStyles,x0:809.5,x1:836.3,tx:844.9,y:1925.4,step:18.25,font:12.3,lw:2.2,fill:'#444'}});
</script>
</body>
</html>
